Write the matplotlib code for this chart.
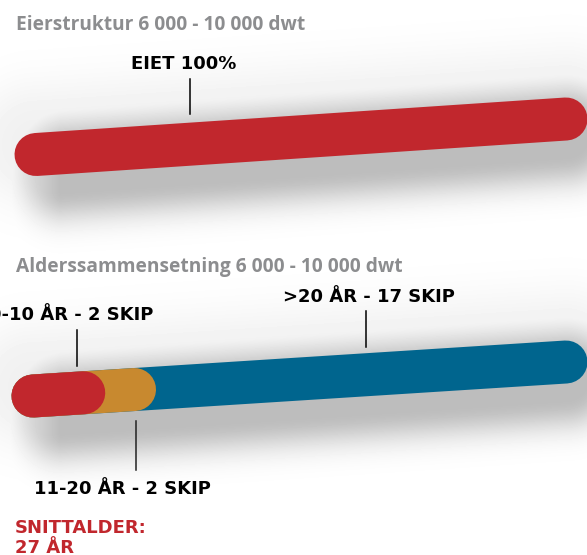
import numpy as np
import matplotlib
matplotlib.use("Agg")
import matplotlib.pyplot as plt

# data
owner_title = "Eierstruktur 6 000 - 10 000 dwt"
owner_labels = ["EIET 100%"]
owner_share = [100]

age_title = "Alderssammensetning 6 000 - 10 000 dwt"
age_labels = ["0-10 ÅR - 2 SKIP", "11-20 ÅR - 2 SKIP", ">20 ÅR - 17 SKIP"]
age_ships = [2, 2, 17]
avg_age = 27

RED = "#c1272d"
ORANGE = "#c8892f"
BLUE = "#00658e"
GREY = "#8c8d8f"

W, H = 587, 555
fig = plt.figure(figsize=(W / 100, H / 100), dpi=100)
ax = fig.add_axes([0, 0, 1, 1])
ax.set_xlim(0, W)
ax.set_ylim(H, 0)
ax.axis("off")

# bar axis: centre line end points (pixel space), half thickness
bar1 = ((36, 154.5), (566, 119.0))
bar2 = ((33, 396.0), (566, 362.0))
hw = 21.5


def pill_dist(X, Y, p0, p1):
    (x0, y0), (x1, y1) = p0, p1
    dx, dy = x1 - x0, y1 - y0
    L2 = dx * dx + dy * dy
    t = np.clip(((X - x0) * dx + (Y - y0) * dy) / L2, 0, 1)
    px, py = x0 + t * dx, y0 + t * dy
    return np.hypot(X - px, Y - py) - hw, t


# soft shadow background
Y, X = np.mgrid[0:H, 0:W] + 0.5
img = np.ones((H, W))
for p0, p1 in (bar1, bar2):
    sh = 16
    d, t = pill_dist(X, Y - sh, (p0[0] + 20, p0[1]), p1)
    d = np.clip(d, 0, None)
    fade = np.clip((X + 10) / 70, 0, 1)
    s = 0.26 * np.exp(-(d / 30) ** 2) * fade
    # faint wide haze around the bar
    d2, _ = pill_dist(X, Y + 10, p0, p1)
    d2 = np.clip(d2, 0, None)
    s2 = 0.055 * np.exp(-(d2 / 45) ** 2)
    img -= np.maximum(s, s2)
ax.imshow(img, cmap="gray", vmin=0, vmax=1, extent=[0, W, H, 0],
          interpolation="bilinear", zorder=0)


def draw_bar(p0, p1, values, colors):
    total = sum(values)
    cum = np.cumsum(values)
    (x0, y0), (x1, y1) = p0, p1
    # largest first so earlier segments sit on top
    for c, col in reversed(list(zip(cum, colors))):
        f = c / total
        ax.plot([x0, x0 + (x1 - x0) * f], [y0, y0 + (y1 - y0) * f],
                color=col, lw=2 * hw * 0.72, solid_capstyle="round", zorder=3)


draw_bar(*bar1, owner_share, [RED])
draw_bar(*bar2, age_ships, [RED, ORANGE, BLUE])

title_font = dict(family=["Open Sans", "DejaVu Sans"], weight="bold", color=GREY, fontsize=13.8)
lab_font = dict(family="DejaVu Sans", weight="bold", color="black", fontsize=13)

ax.text(16, 29.5, owner_title, **title_font)
ax.text(16, 272, age_title, **title_font)

# owner label + leader
ax.text(184, 69, owner_labels[0], ha="center", **lab_font)
ax.plot([190, 190], [79, 114], color="black", lw=1.1)

# age labels + leaders
ax.text(153, 320.5, age_labels[0], ha="right", **lab_font)
ax.plot([77, 77], [330, 366], color="black", lw=1.1)
ax.text(122, 494, age_labels[1], ha="center", **lab_font)
ax.plot([136, 136], [421, 470], color="#222222", lw=1.1)
ax.text(369, 301.5, age_labels[2], ha="center", **lab_font)
ax.plot([366, 366], [311, 347], color="black", lw=1.1)

ax.text(15, 533, "SNITTALDER:", color=RED, fontsize=13, family="DejaVu Sans", weight="bold")
ax.text(15, 553, f"{avg_age} ÅR", color=RED, fontsize=13, family="DejaVu Sans", weight="bold")

fig.savefig("out.png", dpi=100)
